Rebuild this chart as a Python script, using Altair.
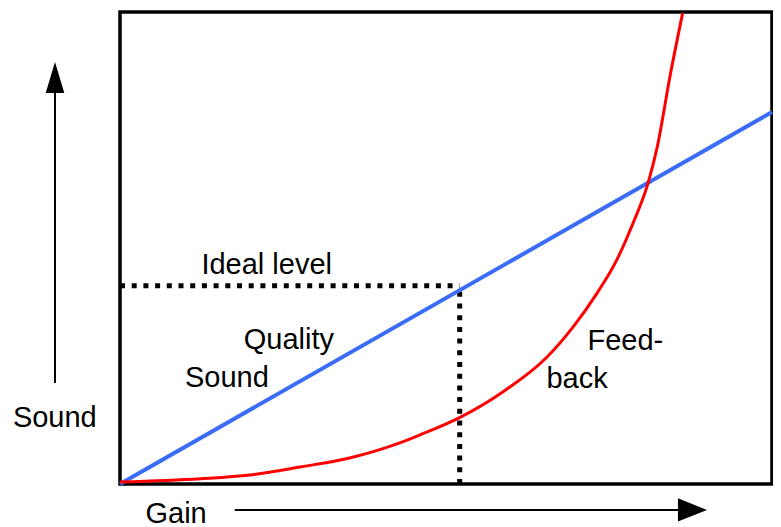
import altair as alt
import pandas as pd

# ---- data (gain 0-100, sound 0-100) ----
fb_gain = [0, 12.3, 19.9, 27.6, 35.2, 42.9, 46.0, 52.0, 58.7, 65.5, 69.5, 73.2, 76.2, 78.7, 81.0, 82.4, 84.4, 86.3]
fb_sound = [0.4, 1.1, 1.9, 3.6, 5.5, 8.7, 10.4, 14.0, 19.5, 26.9, 33.3, 40.5, 47.5, 55.3, 63.8, 71.4, 86.7, 99.8]
ideal_gain = [0, 100]
ideal_sound = [0, 78.8]
ideal_level = 42.0
ideal_gain_point = 52.1

labels = ["Ideal level", "Quality", "Sound", "Feed-", "back", "Sound", "Gain"]
label_x = [22.5, 25.9, 16.4, 77.5, 70.1, -10.0, 8.6]
label_y = [44.5, 28.6, 20.6, 28.4, 20.3, 12.1, -8.3]

# ---- layout ----
W, H = 765, 519
PXX, PXY = 6.52, 4.72
xdom = [(8 - 120) / PXX, (8 + W - 120) / PXX]
ydom = [(484 - (8 + H)) / PXY, (484 - 8) / PXY]
xs = alt.Scale(domain=xdom, nice=False, zero=False)
ys = alt.Scale(domain=ydom, nice=False, zero=False)
X = lambda f: alt.X(f, scale=xs, axis=None)
Y = lambda f: alt.Y(f, scale=ys, axis=None)

fb = pd.DataFrame({"g": fb_gain, "s": fb_sound})
ideal = pd.DataFrame({"g": ideal_gain, "s": ideal_sound})
txt = pd.DataFrame({"t": labels, "x": label_x, "y": label_y})

box = alt.Chart(pd.DataFrame({"x": [0], "x2": [100], "y": [0], "y2": [100]})).mark_rect(
    fill=None, stroke="black", strokeWidth=3.5, clip=False
).encode(x=X("x:Q"), x2="x2:Q", y=Y("y:Q"), y2="y2:Q")

dot_h = alt.Chart(pd.DataFrame({"x": [0], "x2": [ideal_gain_point], "y": [ideal_level]})).mark_rule(
    color="black", strokeWidth=5, strokeDash=[5, 6.7]
).encode(x=X("x:Q"), x2="x2:Q", y=Y("y:Q"))
dot_v = alt.Chart(pd.DataFrame({"x": [ideal_gain_point], "y": [0], "y2": [ideal_level]})).mark_rule(
    color="black", strokeWidth=5, strokeDash=[5, 6.7]
).encode(x=X("x:Q"), y=Y("y:Q"), y2="y2:Q")

blue = alt.Chart(ideal).mark_line(color="#3b6cf6", strokeWidth=4).encode(x=X("g:Q"), y=Y("s:Q"))
red = alt.Chart(fb).mark_line(color="#ff0000", strokeWidth=3, interpolate="monotone").encode(
    x=X("g:Q"), y=Y("s:Q")
)

v_line = alt.Chart(pd.DataFrame({"x": [-9.97], "y": [21.4], "y2": [85.6]})).mark_rule(
    color="black", strokeWidth=2
).encode(x=X("x:Q"), y=Y("y:Q"), y2="y2:Q")
v_head = alt.Chart(pd.DataFrame({"x": [-9.97], "y": [86.1]})).mark_point(
    shape="M0,-1L0.6,1L-0.6,1Z", filled=True, color="black", opacity=1, size=961
).encode(x=X("x:Q"), y=Y("y:Q"))

h_line = alt.Chart(pd.DataFrame({"x": [17.6], "x2": [86.0], "y": [-5.5]})).mark_rule(
    color="black", strokeWidth=2
).encode(x=X("x:Q"), x2="x2:Q", y=Y("y:Q"))
h_head = alt.Chart(pd.DataFrame({"x": [87.8], "y": [-5.5]})).mark_point(
    shape="M1,0L-1,-0.8L-1,0.8Z", filled=True, color="black", opacity=1, size=841
).encode(x=X("x:Q"), y=Y("y:Q"))

text = alt.Chart(txt).mark_text(
    font="Liberation Sans", fontSize=29, align="center", baseline="alphabetic", color="black"
).encode(x=X("x:Q"), y=Y("y:Q"), text="t:N")

chart = alt.layer(box, dot_h, dot_v, blue, red, v_line, v_head, h_line, h_head, text).properties(
    width=W, height=H, padding=0, autosize=alt.AutoSizeParams(type="none")
).configure_view(stroke=None)

chart.save("out.html", embed_options={"renderer": "svg", "actions": False})
